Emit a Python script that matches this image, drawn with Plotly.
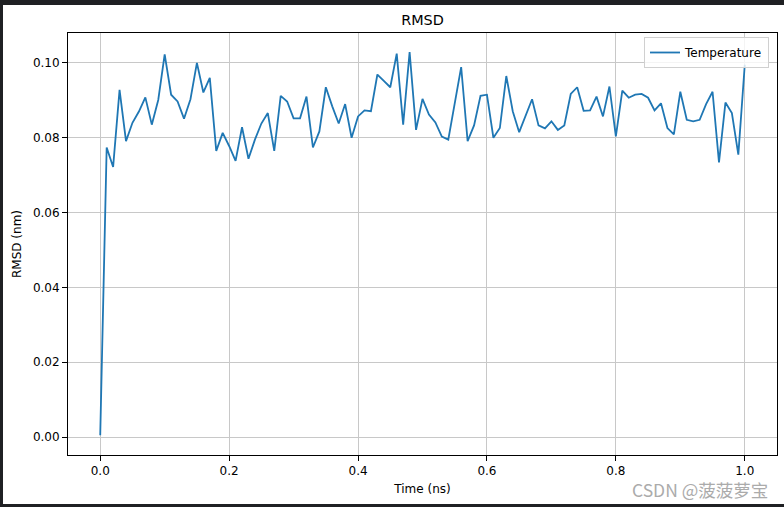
import plotly.graph_objects as go

time_ns = [round(i * 0.01, 2) for i in range(101)]
rmsd_nm = [
    0.0005, 0.0774, 0.0722, 0.0928, 0.0791, 0.0840, 0.0870, 0.0908, 0.0835, 0.0901,
    0.1023, 0.0915, 0.0897, 0.0851, 0.0903, 0.1000, 0.0921, 0.0960, 0.0765, 0.0813,
    0.0778, 0.0738, 0.0828, 0.0744, 0.0795, 0.0838, 0.0866, 0.0765, 0.0912, 0.0897,
    0.0852, 0.0852, 0.0910, 0.0774, 0.0817, 0.0935, 0.0884, 0.0838, 0.0890, 0.0800,
    0.0857, 0.0873, 0.0871, 0.0969, 0.0952, 0.0935, 0.1025, 0.0835, 0.1029, 0.0821,
    0.0904, 0.0862, 0.0841, 0.0803, 0.0795, 0.0892, 0.0989, 0.0791, 0.0833, 0.0912,
    0.0915, 0.0800, 0.0826, 0.0965, 0.0871, 0.0815, 0.0859, 0.0903, 0.0833, 0.0825,
    0.0844, 0.0821, 0.0833, 0.0917, 0.0935, 0.0872, 0.0873, 0.0910, 0.0857, 0.0937,
    0.0804, 0.0926, 0.0907, 0.0915, 0.0917, 0.0907, 0.0873, 0.0892, 0.0826, 0.0809,
    0.0923, 0.0848, 0.0844, 0.0848, 0.0890, 0.0923, 0.0734, 0.0894, 0.0866, 0.0755,
    0.0995,
]
series_name = "Temperature"
x_ticks = [0.0, 0.2, 0.4, 0.6, 0.8, 1.0]
y_ticks = [0.00, 0.02, 0.04, 0.06, 0.08, 0.10]

FONT = "DejaVu Sans"
W, H = 784, 507
ML, MR, MT, MB = 68, 7, 33, 52
PW, PH = W - ML - MR, H - MT - MB

fig = go.Figure()
fig.add_trace(go.Scatter(
    x=time_ns, y=rmsd_nm, mode="lines", name=series_name,
    line=dict(color="#1f77b4", width=1.8),
))

axis_common = dict(
    showline=True, linecolor="black", linewidth=1, mirror=True,
    ticks="outside", ticklen=5, tickcolor="black", tickwidth=1,
    showgrid=True, gridcolor="#c8c8c8", gridwidth=1, zeroline=False,
    tickfont=dict(family=FONT, size=12, color="black"),
)

fig.update_layout(
    width=W, height=H,
    margin=dict(l=ML, r=MR, t=MT, b=MB),
    paper_bgcolor="white", plot_bgcolor="white",
    font=dict(family=FONT, size=12, color="black"),
    title=dict(text="RMSD", x=0.5, xref="paper", xanchor="center",
               y=1 - 20 / H, yref="container", yanchor="middle",
               font=dict(family=FONT, size=14.4, color="black")),
    xaxis=dict(range=[-0.05, 1.05], tickvals=x_ticks, tickformat=".1f",
               title=dict(text="Time (ns)", standoff=7,
                          font=dict(family=FONT, size=12, color="black")),
               **axis_common),
    yaxis=dict(range=[-0.0048, 0.1080], tickvals=y_ticks, tickformat=".2f",
               title=dict(text="RMSD (nm)", standoff=8,
                          font=dict(family=FONT, size=12, color="black")),
               **axis_common),
    showlegend=True,
    legend=dict(x=(769 - ML) / PW, xanchor="right", y=1 - (37 - MT) / PH, yanchor="top",
                bgcolor="rgba(255,255,255,0.8)", bordercolor="#d0d0d0", borderwidth=1,
                font=dict(family=FONT, size=12, color="black"),
                itemwidth=30, tracegroupgap=0),
)

# dark window frame around the screenshot
dark = "#1f2023"
def px_x(p):
    return (p - ML) / PW
def px_y(p):
    return 1 - (p - MT) / PH
frame = [
    (0, 0, W, 5),      # top
    (0, 0, 3, H),      # left
    (0, 504, W, H),    # bottom
]
for x0, y0, x1, y1 in frame:
    fig.add_shape(type="rect", xref="paper", yref="paper",
                  x0=px_x(x0), x1=px_x(x1), y0=px_y(y1), y1=px_y(y0),
                  fillcolor=dark, line=dict(width=0), layer="above")

# watermark
fig.add_annotation(text="CSDN @菠菠萝宝", xref="paper", yref="paper",
                   x=px_x(770), xanchor="right", y=px_y(489), yanchor="middle",
                   showarrow=False,
                   font=dict(family="Noto Sans CJK SC", size=17.5, color="#ababab"))

fig.write_html("out.html", config={"displayModeBar": False},
               post_script="document.body.style.margin='0';")
